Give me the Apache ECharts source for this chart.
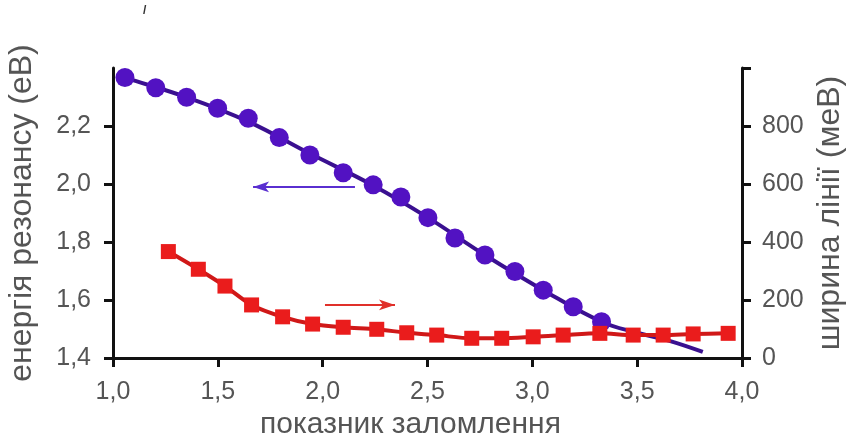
<!DOCTYPE html>
<html><head><meta charset="utf-8">
<script src="https://cdn.jsdelivr.net/npm/echarts@6/dist/echarts.min.js"></script>
<style>html,body{margin:0;padding:0;background:#fff}.L{width:848px;height:433px;position:absolute;left:0;top:0}#r,#ax{pointer-events:none}</style>
</head><body><div class="L" id="c"></div><div class="L" id="r"></div><div class="L" id="ax"></div>
<script>
// x tick labels
const xTicks = [1.0, 1.5, 2.0, 2.5, 3.0, 3.5, 4.0];
const leftTicks = [1.4, 1.6, 1.8, 2.0, 2.2];
const rightTicks = [0, 200, 400, 600, 800];
// resonance energy (eV) – purple circles
const energyX = [1.057,1.204,1.351,1.499,1.645,1.793,1.939,2.098,2.241,2.373,2.502,2.631,2.774,2.917,3.052,3.195,3.330];
const energyY = [2.367,2.332,2.299,2.261,2.227,2.160,2.100,2.039,1.997,1.955,1.884,1.814,1.755,1.698,1.634,1.577,1.525];
// fit curve for energy
const energyFitX = [1.03,1.057,1.351,1.645,1.939,2.241,2.502,2.774,3.052,3.330,3.50,3.65,3.813];
const energyFitY = [2.375,2.367,2.299,2.215,2.105,1.995,1.884,1.755,1.634,1.525,1.487,1.460,1.421];
// line width (meV) – red squares
const widthX = [1.264,1.407,1.534,1.661,1.809,1.952,2.098,2.258,2.401,2.544,2.711,2.854,3.004,3.147,3.322,3.481,3.624,3.767,3.934];
const widthY = [367,306,248,183,142,117,106,99,87,79,68,68,73,79,85,79,79,83,85];
// arrows
const arrowLeft = [[2.154,1.99],[1.668,1.99]];
const arrowRight = [[2.011,183],[2.345,183]];

const zip = (a,b)=>a.map((v,i)=>[v,b[i]]);
const fmt = v => String(v.toFixed(1)).replace('.', ',');
const F = 'Liberation Sans, Arial, sans-serif';
const GRID = {left:113,right:106,top:68,bottom:75,outerBoundsMode:'none'};
const axisLine = {show:true, lineStyle:{color:'#111', width:3}};
const tick = {show:true,inside:false,length:9,lineStyle:{color:'#111',width:3}};
const noLine = {show:false};

// bottom layer: labels, names, energy series
const chart = echarts.init(document.getElementById('c'));
chart.setOption({
  animation:false,
  grid:GRID,
  xAxis:{type:'value',min:1,max:4,interval:0.5,axisLine:noLine,axisTick:noLine,
    axisLabel:{margin:22,fontSize:25,color:'#555',fontFamily:F,formatter:v=>fmt(v)},
    splitLine:{show:false},
    name:'показник заломлення',nameLocation:'middle',nameGap:38,
    nameTextStyle:{fontSize:30,color:'#555',fontFamily:F,padding:[0,34,0,0]}},
  yAxis:[{type:'value',min:1.4,max:2.4,interval:0.2,position:'left',axisLine:noLine,axisTick:noLine,
    axisLabel:{margin:22,fontSize:25,color:'#555',fontFamily:F,formatter:v=>fmt(v),customValues:leftTicks},
    splitLine:{show:false},
    name:'енергія резонансу (еВ)',nameLocation:'middle',nameGap:75,nameRotate:90,
    nameTextStyle:{fontSize:32,color:'#555',fontFamily:F}},
   {type:'value',min:0,max:1000,interval:200,position:'right',axisLine:noLine,axisTick:noLine,
    axisLabel:{margin:20,fontSize:25,color:'#555',fontFamily:F,customValues:rightTicks},
    splitLine:{show:false},
    name:'ширина лінії (меВ)',nameLocation:'middle',nameGap:66,nameRotate:90,
    nameTextStyle:{fontSize:32,color:'#555',fontFamily:F}}],
  series:[
    {type:'line',yAxisIndex:0,data:zip(energyFitX,energyFitY),smooth:0.4,showSymbol:false,
     lineStyle:{color:'#3a1090',width:4},z:2},
    {type:'scatter',yAxisIndex:0,data:zip(energyX,energyY),symbolSize:19,
     itemStyle:{color:'#5212c2',opacity:1},z:3,
     markLine:{silent:true,symbol:['none','arrow'],lineStyle:{color:'#5a2fd0',width:2,type:'solid'},label:{show:false},
       data:[[{coord:arrowLeft[0]},{coord:arrowLeft[1]}]]}}
  ],
  graphic:[{type:'text',left:143,top:5,style:{text:'/',fontSize:12,fill:'#333',fontFamily:F,fontWeight:'bold'}}]
});

// middle layer: line-width series (same grid and scales)
const chart2 = echarts.init(document.getElementById('r'));
chart2.setOption({
  animation:false,
  grid:GRID,
  xAxis:{type:'value',min:1,max:4,show:false},
  yAxis:{type:'value',min:0,max:1000,show:false},
  series:[
    {type:'line',data:zip(widthX,widthY),smooth:0.3,symbol:'rect',symbolSize:15,
     lineStyle:{color:'#d01818',width:4},itemStyle:{color:'#ea1c1c',opacity:1},
     markLine:{silent:true,symbol:['none','arrow'],lineStyle:{color:'#e0302a',width:2,type:'solid'},label:{show:false},
       data:[[{coord:arrowRight[0]},{coord:arrowRight[1]}]]}}
  ]
});

// top layer: axis lines and tick marks only
const chart3 = echarts.init(document.getElementById('ax'));
chart3.setOption({
  animation:false,
  grid:GRID,
  xAxis:{type:'value',min:1,max:4,interval:0.5,axisLine:axisLine,axisTick:tick,
    axisLabel:{show:false},splitLine:{show:false}},
  yAxis:[{type:'value',min:1.4,max:2.4,interval:0.2,position:'left',axisLine:axisLine,
    axisTick:Object.assign({},tick,{customValues:leftTicks}),axisLabel:{show:false},splitLine:{show:false}},
   {type:'value',min:0,max:1000,interval:200,position:'right',axisLine:axisLine,axisTick:tick,
    axisLabel:{show:false},splitLine:{show:false}}],
  series:[]
});
</script></body></html>
